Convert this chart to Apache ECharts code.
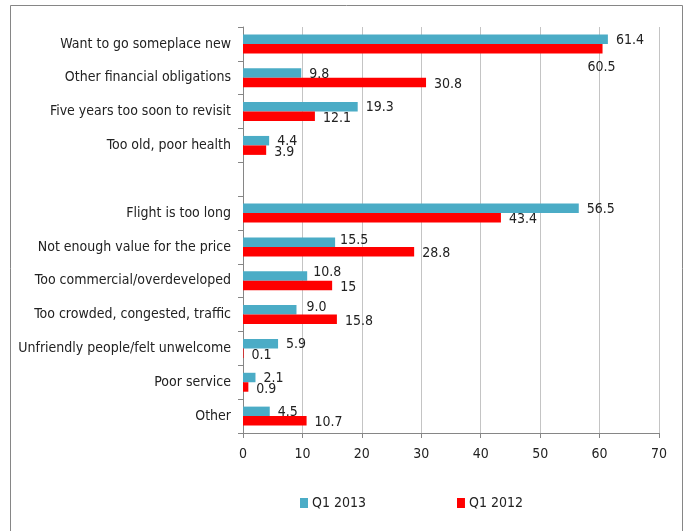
<!DOCTYPE html>
<html>
<head>
<meta charset="utf-8">
<script src="https://cdn.jsdelivr.net/npm/echarts@6/dist/echarts.min.js"></script>
<style>
  html, body { margin: 0; padding: 0; background: #fff; }
  #chart { width: 689px; height: 531px; }
</style>
</head>
<body>
<div id="chart"></div>
<script>
// reasons, top to bottom ('' is the empty spacer row)
const categories = [
  'Want to go someplace new',
  'Other financial obligations',
  'Five years too soon to revisit',
  'Too old, poor health',
  '',
  'Flight is too long',
  'Not enough value for the price',
  'Too commercial/overdeveloped',
  'Too crowded, congested, traffic',
  'Unfriendly people/felt unwelcome',
  'Poor service',
  'Other'
];
const q1_2013 = [61.4, 9.8, 19.3, 4.4, null, 56.5, 15.5, 10.8, 9.0, 5.9, 2.1, 4.5];
const q1_2012 = [60.5, 30.8, 12.1, 3.9, null, 43.4, 28.8, 15, 15.8, 0.1, 0.9, 10.7];
const labels2013 = ['61.4', '9.8', '19.3', '4.4', '', '56.5', '15.5', '10.8', '9.0', '5.9', '2.1', '4.5'];
const labels2012 = ['60.5', '30.8', '12.1', '3.9', '', '43.4', '28.8', '15', '15.8', '0.1', '0.9', '10.7'];
const xTicks = [0, 10, 20, 30, 40, 50, 60, 70];

const font = '"Liberation Sans Narrow", "DejaVu Sans Condensed", sans-serif';
const chart = echarts.init(document.getElementById('chart'));

function items(vals, labs, extra) {
  return vals.map(function (v, i) {
    if (v === null) return '-';
    const o = { value: v, label: { formatter: labs[i] } };
    if (extra && extra[i]) Object.assign(o.label, extra[i]);
    return o;
  });
}

chart.setOption({
  animation: false,
  textStyle: { fontFamily: font },
  graphic: [{
    type: 'rect',
    shape: { x: 10.5, y: 5.5, width: 672, height: 540 },
    style: { fill: 'none', stroke: '#868686', lineWidth: 1 },
    silent: true
  }],
  grid: { left: 243, right: 30, top: 27, bottom: 98 },
  legend: {
    top: 491,
    left: 295,
    itemWidth: 8,
    itemHeight: 10,
    itemGap: 91,
    itemStyle: { borderWidth: 0 },
    icon: 'rect',
    textStyle: { fontFamily: font, fontSize: 14, color: '#222', padding: [0, 0, 0, -1] },
    data: ['Q1 2013', 'Q1 2012']
  },
  xAxis: {
    type: 'value',
    min: xTicks[0],
    max: xTicks[xTicks.length - 1],
    interval: 10,
    axisLine: { show: true, lineStyle: { color: '#868686' } },
    axisTick: { show: true, length: 5, lineStyle: { color: '#868686' } },
    axisLabel: { fontFamily: font, fontSize: 14, color: '#222', margin: 14 },
    splitLine: { show: true, lineStyle: { color: '#c4c4c4' } }
  },
  yAxis: {
    type: 'category',
    inverse: true,
    data: categories,
    axisLine: { show: true, lineStyle: { color: '#868686' } },
    axisTick: { show: true, length: 5, lineStyle: { color: '#868686' } },
    axisLabel: { fontFamily: font, fontSize: 14, color: '#222', margin: 12 }
  },
  series: [
    {
      name: 'Q1 2013',
      type: 'bar',
      barGap: '0%',
      barCategoryGap: '44%',
      itemStyle: { color: '#4BACC6' },
      label: {
        show: true, position: 'right', distance: 8, offset: [0, 1],
        fontFamily: font, fontSize: 14, color: '#222'
      },
      // a few Excel labels sit nudged up/left
      data: items(q1_2013, labels2013, {
        6: { offset: [-3, -2] }, 7: { offset: [-2, -4] }, 8: { offset: [2, -2] }
      })
    },
    {
      name: 'Q1 2012',
      type: 'bar',
      itemStyle: { color: '#FF0000' },
      label: {
        show: true, position: 'right', distance: 8, offset: [0, 2],
        fontFamily: font, fontSize: 14, color: '#222'
      },
      data: items(q1_2012, labels2012, { 0: { offset: [-23, 19] } })
    }
  ]
});
</script>
</body>
</html>
